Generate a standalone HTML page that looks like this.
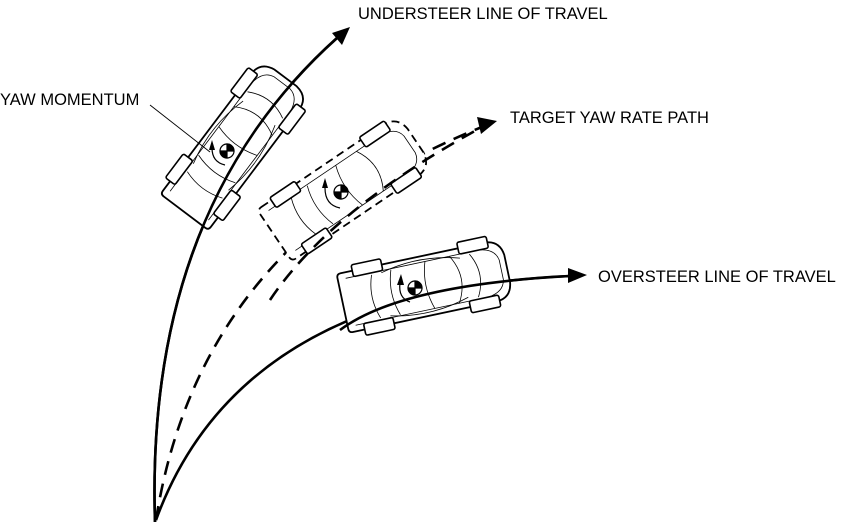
<!DOCTYPE html>
<html><head><meta charset="utf-8"><style>
html,body{margin:0;padding:0;background:#fff}
svg{display:block}
text{font-family:"Liberation Sans",Arial,sans-serif;font-size:16.5px;fill:#000}
</style></head><body>
<svg width="854" height="526" viewBox="0 0 854 526" xmlns="http://www.w3.org/2000/svg">
<defs>
<g id="car">
  <path d="M-80,-30 L66,-30 Q82,-30 84,-14 L84,14 Q82,30 66,30 L-80,30 Q-84,30 -84,26 L-84,-26 Q-84,-30 -80,-30 Z" fill="#fff" stroke="#000" stroke-width="1.8"/>
  <path d="M-76,-24 L60,-24 Q76,-22 78,-10 L78,10 Q76,22 60,24 L-76,24" fill="none" stroke="#000" stroke-width="0.8"/>
  <path d="M-50,-22 Q-58,0 -50,22 M-30,-23 Q-38,0 -30,23 M5,-24 Q-3,0 5,24 M30,-24 Q44,0 30,24 M50,-22 Q62,0 50,22" fill="none" stroke="#000" stroke-width="0.8"/>
  <path d="M-40,-22 Q0,-32 40,-20 M-40,22 Q0,32 40,20" fill="none" stroke="#000" stroke-width="0.8"/>
  <rect x="-68" y="-36" width="30" height="12" rx="2" fill="#fff" stroke="#000" stroke-width="1.6"/>
  <rect x="-68" y="24" width="30" height="12" rx="2" fill="#fff" stroke="#000" stroke-width="1.6"/>
  <rect x="40" y="-36" width="30" height="12" rx="2" fill="#fff" stroke="#000" stroke-width="1.6"/>
  <rect x="40" y="24" width="30" height="12" rx="2" fill="#fff" stroke="#000" stroke-width="1.6"/>
</g>
</defs>

<path d="M155,522 Q145,210 337,38" fill="none" stroke="#000" stroke-width="2.6"/>
<polygon points="350,27 332,33 342,45" fill="#000"/>
<path d="M156,520 Q200,240 482,127" fill="none" stroke="#000" stroke-width="2.6" stroke-dasharray="14,9"/>
<polygon points="497,121 477,117 481,134" fill="#000"/>
<path d="M156,520 Q240,290 570,276" fill="none" stroke="#000" stroke-width="2.6"/>
<polygon points="587,275 568,268 568,283" fill="#000"/>

<g transform="translate(235,145) rotate(-53)">
  <use href="#car"/>
</g>
<path d="M155,522 Q145,210 337,38" fill="none" stroke="#000" stroke-width="2.6"/>
<g transform="translate(345,188) rotate(-34)">
  <path d="M-80,-31 L66,-31 Q83,-31 85,-14 L85,14 Q83,31 66,31 L-80,31 Q-85,31 -85,26 L-85,-26 Q-85,-31 -80,-31 Z" fill="#fff" stroke="#000" stroke-width="1.8" stroke-dasharray="8,5"/>
  <path d="M-76,-24 L60,-24 Q76,-22 78,-10 L78,10 Q76,22 60,24 L-76,24" fill="none" stroke="#000" stroke-width="0.8"/>
  <path d="M-50,-22 Q-58,0 -50,22 M-30,-23 Q-38,0 -30,23 M5,-24 Q-3,0 5,24 M30,-24 Q44,0 30,24" fill="none" stroke="#000" stroke-width="0.8"/>
  <rect x="-68" y="-34" width="30" height="12" rx="2" fill="#fff" stroke="#000" stroke-width="1.6"/>
  <rect x="-68" y="22" width="30" height="12" rx="2" fill="#fff" stroke="#000" stroke-width="1.6"/>
  <rect x="40" y="-34" width="30" height="12" rx="2" fill="#fff" stroke="#000" stroke-width="1.6"/>
  <rect x="40" y="22" width="30" height="12" rx="2" fill="#fff" stroke="#000" stroke-width="1.6"/>
</g>
<path d="M270,300 Q330,210 482,127" fill="none" stroke="#000" stroke-width="2.6" stroke-dasharray="14,9"/>
<g transform="translate(425,286) rotate(-12)">
  <use href="#car"/>
</g>
<path d="M340,330 Q400,285 570,276" fill="none" stroke="#000" stroke-width="2.6"/>

<g stroke="#000" stroke-width="1.2">
  <circle cx="227" cy="151" r="7" fill="#fff"/><path d="M227,151 L234,151 A7,7 0 0 0 227,144 Z M227,151 L220,151 A7,7 0 0 0 227,158 Z" fill="#000"/>
  <circle cx="341" cy="192" r="7" fill="#fff"/><path d="M341,192 L348,192 A7,7 0 0 0 341,185 Z M341,192 L334,192 A7,7 0 0 0 341,199 Z" fill="#000"/>
  <circle cx="415" cy="288" r="7" fill="#fff"/><path d="M415,288 L422,288 A7,7 0 0 0 415,281 Z M415,288 L408,288 A7,7 0 0 0 415,295 Z" fill="#000"/>
</g>
<g fill="none" stroke="#000" stroke-width="1.2">
  <path d="M225,165 Q212,162 212,148"/><path d="M340,208 Q325,205 325,188"/><path d="M410,302 Q398,298 400,283"/>
</g>
<g fill="#000"><polygon points="209,150 212,140 215,150"/><polygon points="322,188 325,178 328,188"/><polygon points="397,285 401,274 404,285"/></g>
<line x1="150" y1="105" x2="210" y2="152" stroke="#000" stroke-width="0.9"/>

<text x="358" y="19">UNDERSTEER LINE OF TRAVEL</text>
<text x="0" y="105">YAW MOMENTUM</text>
<text x="510" y="123">TARGET YAW RATE PATH</text>
<text x="598" y="282">OVERSTEER LINE OF TRAVEL</text>
</svg>
</body></html>
